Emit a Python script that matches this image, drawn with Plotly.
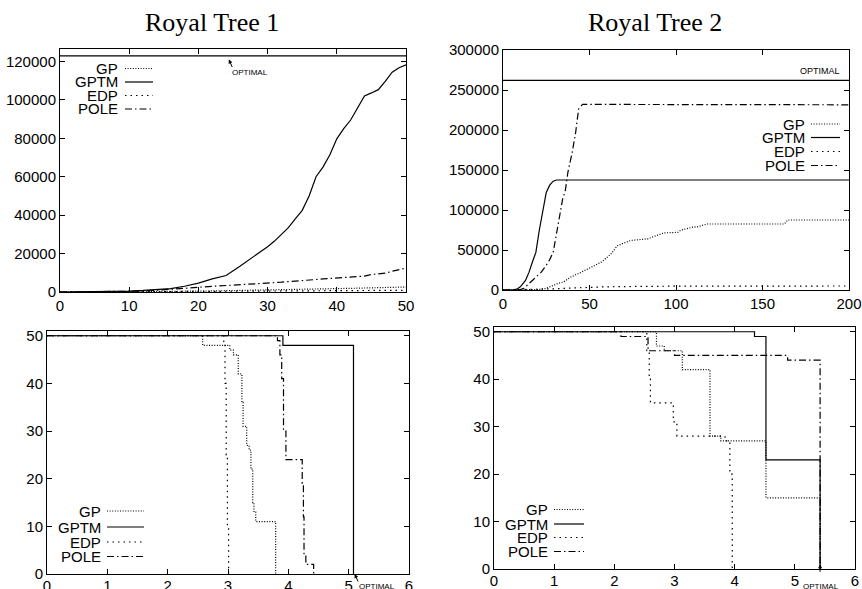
import plotly.graph_objects as go

W, H = 862, 589

# ---------------- data ----------------
# Royal Tree 1 (top-left): best fitness vs generation
rt1_gen = [0, 5, 10, 12, 14, 16, 18, 20, 22, 24, 26, 28, 30, 31, 32, 33, 34, 35, 36, 37, 38, 39, 40,
           41, 42, 43, 44, 45, 46, 47, 48, 49, 50]
rt1_gptm = [0, 100, 500, 800, 1200, 1800, 3000, 4600, 6800, 8600, 13400, 18400, 23600, 26500, 30000,
            33500, 38000, 42500, 50000, 60000, 65000, 71400, 79700, 85000, 89500, 96000, 102000,
            103600, 105300, 109600, 114400, 116700, 118200]
rt1_pole = [0, 50, 300, 500, 900, 1300, 1900, 2500, 2900, 3200, 3600, 4100, 4600, 4800, 5100, 5400,
            5600, 5800, 6200, 6500, 6800, 7100, 7400, 7600, 7700, 7900, 8300, 9100, 9500, 9800,
            10800, 11700, 12400]
rt1_gp = [0, 20, 100, 150, 200, 280, 350, 450, 550, 650, 750, 850, 950, 1000, 1050, 1100, 1150, 1200,
          1300, 1400, 1500, 1600, 1700, 1800, 1900, 2000, 2100, 2200, 2300, 2400, 2500, 2550, 2600]
rt1_edp = [0, 10, 50, 80, 110, 150, 200, 250, 300, 350, 400, 450, 500, 520, 540, 560, 580, 600, 620,
           640, 660, 680, 700, 720, 740, 760, 780, 800, 820, 840, 860, 880, 900]
rt1_optimal = 122880

# Royal Tree 2 (top-right)
rt2_gptm_x = [0, 5, 8, 10, 13, 15, 17, 19, 21, 23, 25, 27, 29, 31, 200]
rt2_gptm_y = [0, 0, 1000, 4000, 12000, 22000, 35000, 47000, 75000, 100000, 122000, 131000, 136000,
              137500, 137500]
rt2_pole_x = [0, 10, 12, 15, 18, 22, 25, 27, 29, 31, 33, 34.5, 36, 37.5, 40, 42, 43.7, 46, 200]
rt2_pole_y = [0, 500, 2000, 8000, 14000, 22000, 31000, 38000, 47000, 72000, 95000, 114000, 124000,
              147000, 172000, 197000, 226000, 232000, 231500]
rt2_gp_x = [0, 20, 25, 31.6, 35, 39, 45, 51, 57, 62.4, 66, 69, 74, 83.6, 89.4, 93, 101, 103, 109.6,
            112.5, 118, 162.6, 164.5, 200]
rt2_gp_y = [0, 500, 2000, 8000, 10000, 16000, 22000, 28600, 35000, 45000, 55000, 58000, 62000, 64000,
            68000, 71400, 72000, 75000, 78500, 79000, 82500, 82500, 87500, 87500]
rt2_edp_x = [0, 20, 30, 40, 50, 60, 80, 100, 200]
rt2_edp_y = [0, 500, 1500, 2500, 3500, 4000, 4500, 4800, 5000]
rt2_optimal = 262144

# Bottom-left (Royal Tree 1): runs remaining
bl_gp_x = [0, 2.58, 3.03, 3.09, 3.17, 3.23, 3.25, 3.31, 3.35, 3.38, 3.41, 3.43, 3.46, 3.79]
bl_gp_y = [50, 48, 47, 46, 42, 36, 31, 27, 26, 22, 15, 13, 11, 0]
bl_gptm_x = [0, 3.91, 5.08]
bl_gptm_y = [50, 48, 0]
bl_edp_x = [0, 2.93, 2.95, 2.97, 2.99, 3.01]
bl_edp_y = [50, 48, 40, 25, 10, 0]
bl_pole_x = [0, 3.82, 3.86, 3.89, 3.92, 3.96, 4.23, 4.25, 4.26, 4.29, 4.42]
bl_pole_y = [50, 49, 46, 41, 30, 24, 19, 12, 4, 2, 0]
bl_optimal = 5.1

# Bottom-right (Royal Tree 2)
br_gp_x = [0, 2.70, 2.83, 3.13, 3.59, 3.77, 4.52, 5.42]
br_gp_y = [50, 47, 46, 42, 28, 27, 15, 0]
br_gptm_x = [0, 4.33, 4.52, 5.42]
br_gptm_y = [50, 49, 23, 0]
br_edp_x = [0, 2.54, 2.58, 2.60, 2.98, 3.04, 3.84, 3.92, 3.96]
br_edp_y = [50, 46, 40, 35, 31, 28, 27, 20, 0]
br_pole_x = [0, 2.11, 2.56, 3.0, 4.88, 5.42]
br_pole_y = [50, 49, 46, 45, 44, 0]
br_optimal = 5.42

series_names = ["GP", "GPTM", "EDP", "POLE"]
titles = ["Royal Tree 1", "Royal Tree 2"]

# ---------------- styles ----------------
DASH = {"GP": "1px,1.6px", "GPTM": "solid", "EDP": "1.5px,4px", "POLE": "7px,3px,1.5px,3px"}
LW = 1.2
TICKFONT = dict(family="Liberation Sans, Arial, sans-serif", size=15, color="black")


def px(x):
    return x / W


def py(y):
    return 1 - y / H


fig = go.Figure()


def add(xs, ys, name, xa, ya, shape="linear"):
    fig.add_trace(go.Scatter(x=xs, y=ys, mode="lines", name=name, xaxis=xa, yaxis=ya,
                             line=dict(color="black", width=LW, dash=DASH[name], shape=shape),
                             showlegend=False, hoverinfo="skip"))


# top-left
add(rt1_gen, rt1_gp, "GP", "x", "y")
add(rt1_gen, rt1_gptm, "GPTM", "x", "y")
add(rt1_gen, rt1_edp, "EDP", "x", "y")
add(rt1_gen, rt1_pole, "POLE", "x", "y")
fig.add_trace(go.Scatter(x=[0, 50], y=[rt1_optimal, rt1_optimal], mode="lines", xaxis="x", yaxis="y",
                         line=dict(color="black", width=LW), showlegend=False, hoverinfo="skip"))
# top-right
add(rt2_gp_x, rt2_gp_y, "GP", "x2", "y2")
add(rt2_gptm_x, rt2_gptm_y, "GPTM", "x2", "y2")
add(rt2_edp_x, rt2_edp_y, "EDP", "x2", "y2")
add(rt2_pole_x, rt2_pole_y, "POLE", "x2", "y2")
fig.add_trace(go.Scatter(x=[0, 200], y=[rt2_optimal, rt2_optimal], mode="lines", xaxis="x2", yaxis="y2",
                         line=dict(color="black", width=LW), showlegend=False, hoverinfo="skip"))
# bottom-left
add(bl_gp_x, bl_gp_y, "GP", "x3", "y3", "hv")
add(bl_gptm_x, bl_gptm_y, "GPTM", "x3", "y3", "hv")
add(bl_edp_x, bl_edp_y, "EDP", "x3", "y3", "hv")
add(bl_pole_x, bl_pole_y, "POLE", "x3", "y3", "hv")
# bottom-right
add(br_gp_x, br_gp_y, "GP", "x4", "y4", "hv")
add(br_gptm_x, br_gptm_y, "GPTM", "x4", "y4", "hv")
add(br_edp_x, br_edp_y, "EDP", "x4", "y4", "hv")
add(br_pole_x, br_pole_y, "POLE", "x4", "y4", "hv")


def axis(domain, rng, tickvals, anchor, standoff=0):
    return dict(domain=domain, range=rng, tickvals=tickvals, ticktext=[str(v) for v in tickvals],
                anchor=anchor, showline=True, linecolor="black", linewidth=1, mirror="allticks",
                ticks="inside", ticklen=5, tickcolor="black", tickwidth=1, ticklabelstandoff=standoff,
                showgrid=False, zeroline=False, tickfont=TICKFONT, fixedrange=True, automargin=False)


layout = dict(
    width=W, height=H, margin=dict(l=0, r=0, t=0, b=0), autosize=False,
    paper_bgcolor="white", plot_bgcolor="white", showlegend=False,
    xaxis=axis([px(60), px(406)], [0, 50], list(range(0, 51, 10)), "y"),
    yaxis=axis([py(292), py(49.3)], [0, 126300], list(range(0, 120001, 20000)), "x"),
    xaxis2=axis([px(503), px(849)], [0, 200], list(range(0, 201, 50)), "y2"),
    yaxis2=axis([py(290), py(50)], [0, 300000], list(range(0, 300001, 50000)), "x2"),
    xaxis3=axis([px(47), px(409)], [0, 6], list(range(0, 7)), "y3", -2),
    yaxis3=axis([py(574), py(331)], [0, 51], list(range(0, 51, 10)), "x3"),
    xaxis4=axis([px(494), px(855)], [0, 6], list(range(0, 7)), "y4", -2),
    yaxis4=axis([py(569), py(327)], [0, 51], list(range(0, 51, 10)), "x4"),
)
fig.update_layout(**layout)

annotations = []
shapes = []

# titles
TITLEFONT = dict(family="Liberation Serif, Times New Roman, serif", size=26, color="black")
annotations.append(dict(text=titles[0], x=px(212), y=py(22), xref="paper", yref="paper",
                        showarrow=False, font=TITLEFONT, xanchor="center", yanchor="middle"))
annotations.append(dict(text=titles[1], x=px(655), y=py(22), xref="paper", yref="paper",
                        showarrow=False, font=TITLEFONT, xanchor="center", yanchor="middle"))

# legends (text right-aligned, sample to the right)
legend_specs = [
    (120, 125, 153, [68.5, 82, 95.5, 109]),
    (807, 811, 840, [124, 137.5, 151.5, 165.5]),
    (103, 107, 144, [511, 527, 542, 556.5]),
    (550, 554, 584, [509.5, 524, 537.5, 551.5]),
]
for tx, s0, s1, rows in legend_specs:
    for name, ry in zip(series_names, rows):
        annotations.append(dict(text=name, x=px(tx), y=py(ry), xref="paper", yref="paper",
                                showarrow=False, xanchor="right", yanchor="middle",
                                font=TICKFONT))
        shapes.append(dict(type="line", xref="paper", yref="paper", x0=px(s0), x1=px(s1),
                           y0=py(ry), y1=py(ry),
                           line=dict(color="black", width=LW, dash=DASH[name])))

SMALL = dict(family="Liberation Sans, Arial, sans-serif", size=8, color="black")
# OPTIMAL markers
annotations.append(dict(text="", x=24.4, y=121000, xref="x", yref="y", showarrow=True,
                        ax=4, ay=9, arrowhead=2, arrowsize=0.8, arrowwidth=1, arrowcolor="black"))
annotations.append(dict(text="OPTIMAL", x=px(230), y=py(73), xref="paper", yref="paper",
                        showarrow=False, xanchor="left", yanchor="middle", font=SMALL))
annotations.append(dict(text="OPTIMAL", x=px(820), y=py(71), xref="paper", yref="paper",
                        showarrow=False, xanchor="center", yanchor="middle",
                        font=dict(family=SMALL["family"], size=9, color="black")))
annotations.append(dict(text="", x=bl_optimal, y=0, xref="x3", yref="y3", showarrow=True,
                        ax=4, ay=9, arrowhead=2, arrowsize=0.8, arrowwidth=1, arrowcolor="black"))
annotations.append(dict(text="OPTIMAL", x=px(357), y=py(586), xref="paper", yref="paper",
                        showarrow=False, xanchor="left", yanchor="middle", font=SMALL))
annotations.append(dict(text="", x=br_optimal, y=1.0, xref="x4", yref="y4", showarrow=True,
                        ax=0, ay=9, arrowhead=2, arrowsize=0.8, arrowwidth=1, arrowcolor="black"))
annotations.append(dict(text="OPTIMAL", x=px(821), y=py(586), xref="paper", yref="paper",
                        showarrow=False, xanchor="center", yanchor="middle", font=SMALL))

fig.update_layout(annotations=annotations, shapes=shapes)
fig.write_html("out.html", config={"responsive": False, "displayModeBar": False},
               post_script="document.body.style.margin='0';document.body.style.overflow='hidden';")
